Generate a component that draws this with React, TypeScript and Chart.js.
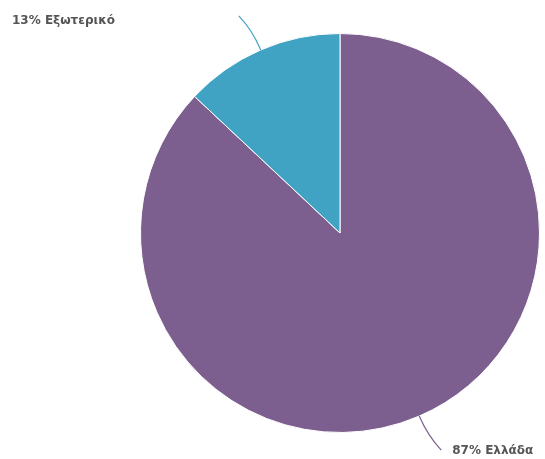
import React, { useEffect, useRef } from "react";
import { Chart, registerables } from "chart.js";

Chart.register(...registerables);

const categories = ["Ελλάδα", "Εξωτερικό"];
const values = [87, 13];
const colors = ["#7c5f8e", "#40a3c3"];
const lineColors = ["#7c5f8e", "#40a3c3"];

const labelPlugin = {
  id: "pieLabels",
  afterDatasetsDraw(chart: any) {
    const ctx = chart.ctx;
    const meta = chart.getDatasetMeta(0);
    ctx.save();
    ctx.font = "bold 12px 'DejaVu Sans', sans-serif";
    ctx.fillStyle = "#555555";
    ctx.textBaseline = "middle";
    meta.data.forEach((arc: any, i: number) => {
      const { x, y, startAngle, endAngle, outerRadius } = arc.getProps(
        ["x", "y", "startAngle", "endAngle", "outerRadius"],
        true
      );
      const mid = (startAngle + endAngle) / 2;
      const dx = Math.cos(mid);
      const dy = Math.sin(mid);
      const sx = x + dx * outerRadius;
      const sy = y + dy * outerRadius;
      const cx = sx + dx * 22;
      const cy = sy + dy * 22;
      const side = dx < 0 ? -1 : 1;
      const ex = sx + side * 22;
      const ey = sy + (dy < 0 ? -1 : 1) * 34;
      ctx.strokeStyle = lineColors[i];
      ctx.lineWidth = 1.2;
      ctx.beginPath();
      ctx.moveTo(sx, sy);
      ctx.quadraticCurveTo(cx, cy, ex, ey);
      ctx.stroke();
      const text = values[i] + "% " + categories[i];
      ctx.textAlign = "left";
      if (side > 0) {
        ctx.fillText(text, ex + 11, ey + 1);
      } else {
        ctx.fillText(text, 12, ey + 5);
      }
    });
    ctx.restore();
  },
};

export default function App() {
  const ref = useRef<HTMLCanvasElement>(null);
  useEffect(() => {
    if (!ref.current) return;
    const chart = new Chart(ref.current, {
      type: "pie",
      data: {
        labels: categories,
        datasets: [
          {
            data: values,
            backgroundColor: colors,
            borderColor: "#ffffff",
            borderWidth: 1,
          },
        ],
      },
      options: {
        animation: false,
        responsive: false,
        layout: { padding: { top: 33, bottom: 26, left: 140, right: 5 } },
        plugins: {
          legend: { display: false },
          tooltip: { enabled: false },
        },
      },
      plugins: [labelPlugin],
    });
    return () => chart.destroy();
  }, []);
  return (
    <div style={{ position: "fixed", left: 0, top: 0, width: 545, height: 459, background: "#fff" }}>
      <canvas ref={ref} width={545} height={459} style={{ display: "block" }} />
    </div>
  );
}
